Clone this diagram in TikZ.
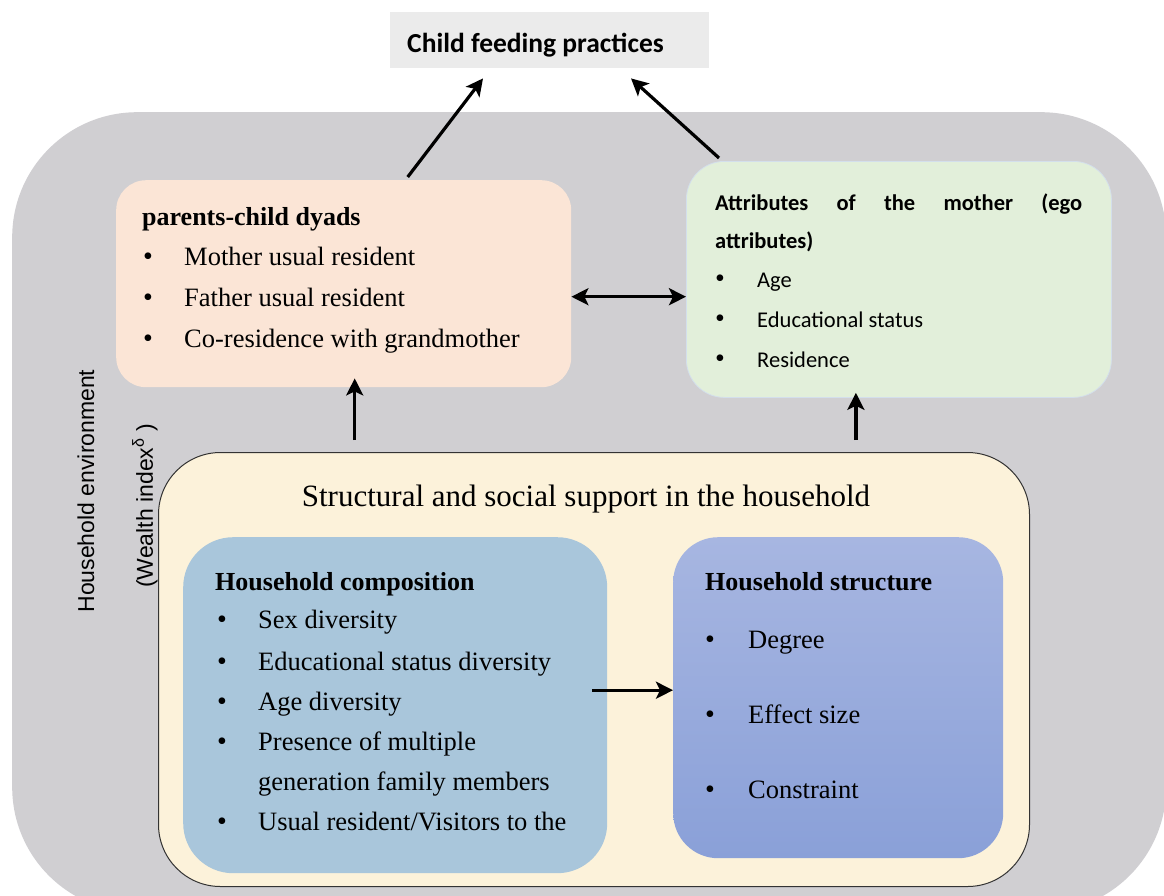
\documentclass[tikz,border=0pt]{standalone}
\usepackage{fontspec}
\usetikzlibrary{arrows.meta,calc}
\setmainfont{Liberation Serif}
\newfontfamily\carlito{Carlito}
\newfontfamily\lsans{Liberation Sans}
\definecolor{bggray}{HTML}{D0CFD2}
\definecolor{topgray}{HTML}{EBEBEB}
\definecolor{peach}{HTML}{FBE5D6}
\definecolor{lgreen}{HTML}{E2EFDA}
\definecolor{gborder}{HTML}{D3DFEC}
\definecolor{cream}{HTML}{FCF2DA}
\definecolor{lblue}{HTML}{A9C6DB}
\definecolor{ptop}{HTML}{A7B6E1}
\definecolor{pbot}{HTML}{8AA0D8}
\tikzset{
  panel/.style={anchor=north west, inner sep=0pt, draw=none},
  ser/.style={anchor=base west, inner sep=0pt, font=\fontsize{26.5}{31}\selectfont},
  serb/.style={anchor=base west, inner sep=0pt, font=\fontsize{26}{31}\selectfont\bfseries},
  cal/.style={anchor=base west, inner sep=0pt, font=\carlito\fontsize{22.5}{27}\selectfont},
  calb/.style={anchor=base west, inner sep=0pt, font=\carlito\bfseries\fontsize{22.5}{27}\selectfont},
  bul/.style={anchor=base, inner sep=0pt, font=\fontsize{28}{31}\selectfont},
  tipk/.tip={Stealth[length=17pt,width=17pt,inset=4pt]},
  arr/.style={line width=3.2pt, -tipk},
  darr/.style={line width=3.2pt, tipk-tipk},
  vlab/.style={rotate=90, inner sep=0pt, font=\lsans\fontsize{23}{27}\selectfont}
}
\begin{document}
\begin{tikzpicture}[x=1pt,y=-1pt]
\useasboundingbox (0,0) rectangle (1164,895);
\fill[white] (0,0) rectangle (1164,895);
\begin{scope}
\clip (0,0) rectangle (1164,895);
\node[panel, fill=bggray, minimum width=1154pt, minimum height=800pt, rounded corners=125pt] (env) at (12,112) {};
\end{scope}

% top box
\node[panel, fill=topgray, minimum width=319pt, minimum height=56pt] (cfp) at (390,12) {};
\node[anchor=base west, inner sep=0pt, font=\carlito\bfseries\fontsize{27.5}{32}\selectfont] (cfpT) at (407,52) {Child feeding practices};

% parents-child dyads
\node[panel, fill=peach, minimum width=455pt, minimum height=207pt, rounded corners=30pt] (dyad) at (116,180) {};
\node[serb] (dyT) at (142,225) {parents-child dyads};
\node[bul] (dyb1) at (148,265) {\textbullet};
\node[ser] (dy1) at (184,265) {Mother usual resident};
\node[bul] (dyb2) at (148,306) {\textbullet};
\node[ser] (dy2) at (184,306) {Father usual resident};
\node[bul] (dyb3) at (148,347) {\textbullet};
\node[ser] (dy3) at (184,347) {Co-residence with grandmother};

% attributes of the mother
\node[panel, fill=lgreen, draw=gborder, line width=0.8pt, minimum width=425pt, minimum height=236pt, rounded corners=38pt] (attr) at (686,161) {};
\node[calb] (atT1) at (715,210) {\makebox[367pt][s]{Attributes of the mother (ego}};
\node[calb] (atT2) at (715,248) {attributes)};
\node[bul] (atb1) at (720,287) {\textbullet};
\node[cal] (at1) at (757,287) {Age};
\node[bul] (atb2) at (720,327) {\textbullet};
\node[cal] (at2) at (757,327) {Educational status};
\node[bul] (atb3) at (720,367) {\textbullet};
\node[cal] (at3) at (757,367) {Residence};

% structural and social support
\node[panel, fill=cream, draw=black!80, line width=1pt, minimum width=871pt, minimum height=434pt, rounded corners=62pt] (sss) at (158,452) {};
\node[anchor=base, inner sep=0pt, font=\fontsize{31}{36}\selectfont] (sssT) at (586,506) {Structural and social support in the household};

% household composition
\node[panel, fill=lblue, minimum width=424pt, minimum height=336pt, rounded corners=50pt] (comp) at (183,537) {};
\node[serb] (coT) at (215,590) {Household composition};
\node[bul] (cob1) at (222,628) {\textbullet};
\node[ser] (co1) at (258,628) {Sex diversity};
\node[bul] (cob2) at (222,670) {\textbullet};
\node[ser] (co2) at (258,670) {Educational status diversity};
\node[bul] (cob3) at (222,710) {\textbullet};
\node[ser] (co3) at (258,710) {Age diversity};
\node[bul] (cob4) at (222,750) {\textbullet};
\node[ser] (co4) at (258,750) {Presence of multiple};
\node[ser] (co4b) at (258,790) {generation family members};
\node[bul] (cob5) at (222,830) {\textbullet};
\node[ser] (co5) at (258,830) {Usual resident/Visitors to the};

% household structure
\node[panel, top color=ptop, bottom color=pbot, minimum width=330pt, minimum height=321pt, rounded corners=45pt] (hs) at (673,537) {};
\node[serb] (hsT) at (705,590) {Household structure};
\node[bul] (hsb1) at (710,648) {\textbullet};
\node[ser] (hs1) at (748,648) {Degree};
\node[bul] (hsb2) at (710,723) {\textbullet};
\node[ser] (hs2) at (748,723) {Effect size};
\node[bul] (hsb3) at (710,798) {\textbullet};
\node[ser] (hs3) at (748,798) {Constraint};

% vertical labels
\node[vlab] (envL) at (86,491) {Household environment};
\node[vlab] (wealthL) at (145,506) {(Wealth index\textsuperscript{δ} )};

% connectors
\coordinate (c1s) at ($(dyad.north)+(64,-3)$);
\coordinate (c1e) at ($(cfp.south west)+(93,10)$);
\coordinate (c2s) at ($(attr.north west)+(33,-3)$);
\coordinate (c2e) at ($(cfp.south west)+(241,10)$);
\draw[arr] (c1s) -- (c1e);
\draw[arr] (c2s) -- (c2e);
\draw[darr] ([yshift=-13pt]dyad.east) -- ([yshift=-13pt]dyad.east -| attr.west);
\draw[arr] ([xshift=11pt,yshift=12pt]sss.north -| dyad.south) -- ([xshift=11pt,yshift=9pt]dyad.south);
\draw[arr] ([xshift=-43pt,yshift=12pt]sss.north -| attr.south) -- ([xshift=-43pt,yshift=5pt]attr.south);
\coordinate (c5s) at ($(comp.east)+(-15,-15)$);
\draw[arr] (c5s) -- (c5s -| hs.west);
\end{tikzpicture}
\end{document}
